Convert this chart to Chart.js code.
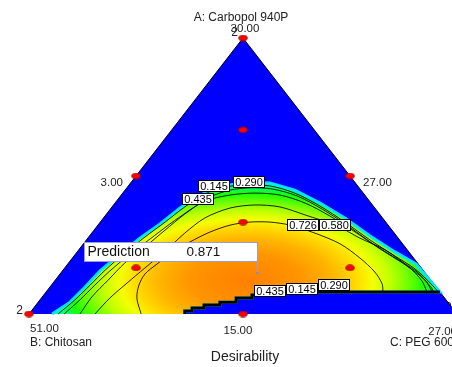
<!DOCTYPE html>
<html>
<head>
<meta charset="utf-8">
<script src="https://cdn.jsdelivr.net/npm/chart.js@4.4.1/dist/chart.umd.min.js"></script>
<style>
  html, body { margin: 0; padding: 0; background: #fff; }
</style>
</head>
<body>
<canvas id="chart" width="452" height="367"></canvas>
<script>
// simplex plotted as x = C + A/2, y = A (component fractions)
const triangle = [[0, 0], [0.5, 1], [1, 0]];

const axisNames = ["A: Carbopol 940P", "B: Chitosan", "C: PEG 600"];
const vertexValues = ["30.00", "51.00", "27.00"];   // A, B, C vertices
const edgeValues = ["3.00", "27.00", "15.00"];       // left, right, bottom midpoints
const replicates = ["2", "2", "2"];
const responseName = "Desirability";

const designPoints = [
  [0, 0], [0.5, 1], [1, 0],
  [0.25, 0.5], [0.75, 0.5], [0.5, 0],
  [0.5, 0.333], [0.5, 0.667], [0.25, 0.167], [0.75, 0.167]
];

// edge of the desirable (non-zero) region
const regionTop = [
  [0.054, 0], [0.096, 0.043], [0.131, 0.098], [0.166, 0.156], [0.213, 0.217],
  [0.259, 0.275], [0.306, 0.326], [0.353, 0.384], [0.400, 0.431], [0.446, 0.460],
  [0.505, 0.478], [0.563, 0.475], [0.621, 0.449], [0.680, 0.402], [0.738, 0.348],
  [0.797, 0.283], [0.855, 0.225], [0.904, 0.181], [0.960, 0.080]
];
const regionBottom = [
  [0.960, 0.080], [0.680, 0.080], [0.633, 0.076], [0.544, 0.069], [0.521, 0.069],
  [0.521, 0.058], [0.484, 0.058], [0.484, 0.043], [0.446, 0.043], [0.446, 0.033],
  [0.409, 0.033], [0.409, 0.022], [0.381, 0.022], [0.381, 0.011], [0.364, 0.011],
  [0.364, 0]
];

const contour145 = [
  [0.068, 0], [0.107, 0.051], [0.143, 0.105], [0.178, 0.159], [0.224, 0.221],
  [0.271, 0.279], [0.318, 0.333], [0.364, 0.388], [0.411, 0.435], [0.458, 0.460],
  [0.505, 0.467], [0.563, 0.464], [0.621, 0.438], [0.680, 0.391], [0.738, 0.333],
  [0.797, 0.268], [0.855, 0.210], [0.902, 0.163], [0.942, 0.105], [0.956, 0.080]
];
const contour290 = [
  [0.082, 0], [0.119, 0.051], [0.154, 0.105], [0.189, 0.156], [0.236, 0.217],
  [0.283, 0.272], [0.329, 0.326], [0.376, 0.377], [0.423, 0.424], [0.470, 0.449],
  [0.516, 0.457], [0.568, 0.453], [0.626, 0.428], [0.685, 0.380], [0.743, 0.322],
  [0.801, 0.257], [0.860, 0.199], [0.907, 0.152], [0.942, 0.091], [0.944, 0.080]
];
const contour435 = [
  [0.119, 0], [0.147, 0.062], [0.185, 0.123], [0.224, 0.185], [0.271, 0.243],
  [0.318, 0.304], [0.364, 0.362], [0.411, 0.409], [0.470, 0.431], [0.528, 0.438],
  [0.586, 0.431], [0.645, 0.402], [0.703, 0.355], [0.762, 0.297], [0.820, 0.236],
  [0.879, 0.178], [0.925, 0.123], [0.942, 0.080]
];
const contour580 = [
  [0.154, 0], [0.189, 0.058], [0.229, 0.112], [0.271, 0.167], [0.318, 0.228],
  [0.364, 0.293], [0.411, 0.348], [0.470, 0.384], [0.528, 0.395], [0.586, 0.388],
  [0.645, 0.359], [0.720, 0.319], [0.773, 0.275], [0.832, 0.232], [0.890, 0.167],
  [0.918, 0.120], [0.930, 0.080]
];
const contour726 = [
  [0.262, 0], [0.252, 0.058], [0.257, 0.105], [0.271, 0.145], [0.299, 0.181],
  [0.334, 0.221], [0.376, 0.261], [0.423, 0.297], [0.470, 0.322], [0.516, 0.333],
  [0.563, 0.333], [0.610, 0.322], [0.668, 0.293], [0.727, 0.254], [0.773, 0.203],
  [0.808, 0.152], [0.825, 0.109], [0.827, 0.080]
];

const contourLabels = ["0.145", "0.290", "0.435", "0.726", "0.580", "0.435", "0.145", "0.290"];
const contourLabelPos = [
  [0.432, 0.462], [0.513, 0.480], [0.394, 0.415], [0.640, 0.322],
  [0.715, 0.322], [0.562, 0.083], [0.639, 0.092], [0.713, 0.105]
];

const predictionPoint = [0.533, 0.149];
const predictionValue = "0.871";

// where the response peaks and how far the colour ramp spreads
const peakCenter = [0.507, 0.120];
const peakSpread = [0.456, 0.344];
const heatStops = [
  [0, "#ff8000"], [0.28, "#ff9400"], [0.44, "#ffb400"], [0.57, "#ffdc00"],
  [0.65, "#f4ff00"], [0.74, "#c0ff00"], [0.83, "#70ff00"], [0.92, "#18ff00"],
  [1, "#00ff90"]
];

const toPts = (arr) => arr.map(([x, y]) => ({ x, y }));

let heatPattern = null;
function heatFill(chart) {
  if (!chart.chartArea || !chart.scales.x) return "#ffe000";
  if (heatPattern) return heatPattern;
  const sx = chart.scales.x, sy = chart.scales.y;
  const cx = sx.getPixelForValue(peakCenter[0]);
  const cy = sy.getPixelForValue(peakCenter[1]);
  const rx = Math.abs(sx.getPixelForValue(peakCenter[0] + peakSpread[0]) - cx);
  const ry = Math.abs(sy.getPixelForValue(peakCenter[1] + peakSpread[1]) - cy);
  const off = document.createElement("canvas");
  off.width = chart.width;
  off.height = chart.height;
  const c = off.getContext("2d");
  c.translate(cx, cy);
  c.scale(1, ry / rx);
  const g = c.createRadialGradient(0, 0, 0, 0, 0, rx);
  heatStops.forEach(([s, col]) => g.addColorStop(s, col));
  c.fillStyle = g;
  c.fillRect(-cx - 10, -off.height * rx / ry, off.width + 20, off.height * 2 * rx / ry);
  heatPattern = chart.ctx.createPattern(off, "no-repeat");
  return heatPattern;
}

function makeDot() {
  const cv = document.createElement("canvas");
  cv.width = 10;
  cv.height = 7;
  const c = cv.getContext("2d");
  c.beginPath();
  c.ellipse(5, 3.5, 4.3, 2.8, 0, 0, Math.PI * 2);
  c.fillStyle = "#ff0000";
  c.fill();
  c.strokeStyle = "#990000";
  c.lineWidth = 0.8;
  c.stroke();
  return cv;
}

const FONT = '"Liberation Sans", Arial, sans-serif';

function contourLine(points, order) {
  return {
    data: toPts(points),
    borderColor: "rgba(0,0,0,0.85)",
    borderWidth: 1,
    pointRadius: 0,
    fill: false,
    tension: 0.3,
    clip: false,
    order
  };
}

const axisTextPlugin = {
  id: "axisText",
  beforeDatasetsDraw(chart) {
    const { ctx, scales: { x, y } } = chart;
    const p = (pt) => ({ x: x.getPixelForValue(pt[0]), y: y.getPixelForValue(pt[1]) });
    const T = p(triangle[1]), L = p(triangle[0]), R = p(triangle[2]);
    const LM = p([0.25, 0.5]), RM = p([0.75, 0.5]), BM = p([0.5, 0]);
    ctx.save();
    ctx.fillStyle = "#222";
    ctx.textBaseline = "middle";
    const text = (s, tx, ty, align, size) => {
      ctx.font = `${size || 11.5}px ${FONT}`;
      ctx.textAlign = align;
      ctx.fillText(s, tx, ty);
    };
    text(axisNames[0], T.x - 2, T.y - 20, "center", 12);
    text(vertexValues[0], T.x + 2, T.y - 9, "center");
    text(replicates[0], T.x - 5, T.y - 5, "right", 12);
    text(replicates[1], L.x - 6, L.y - 3, "right", 12);
    text(vertexValues[1], L.x + 1, L.y + 15, "left");
    text(axisNames[1], L.x + 1, L.y + 29, "left", 12);
    text(replicates[2], R.x - 12, R.y - 6, "left", 12);
    text(vertexValues[2], R.x, R.y + 18, "right");
    text(axisNames[2], R.x - 3, R.y + 29, "right", 12);
    text(edgeValues[0], LM.x - 13, LM.y + 7, "right");
    text(edgeValues[1], RM.x + 13, RM.y + 7, "left");
    text(edgeValues[2], BM.x - 5, BM.y + 17, "center");
    text(responseName, BM.x + 2, BM.y + 43, "center", 14);
    ctx.restore();
  }
};

const labelPlugin = {
  id: "contourLabels",
  afterDatasetsDraw(chart) {
    const { ctx, scales: { x, y } } = chart;
    ctx.save();
    ctx.font = `11px ${FONT}`;
    ctx.textAlign = "center";
    ctx.textBaseline = "middle";
    contourLabels.forEach((t, i) => {
      const px = Math.round(x.getPixelForValue(contourLabelPos[i][0]));
      const py = Math.round(y.getPixelForValue(contourLabelPos[i][1]));
      const w = Math.round(ctx.measureText(t).width) + 4;
      const h = 12;
      ctx.fillStyle = "#fff";
      ctx.fillRect(px - w / 2, py - h / 2, w, h);
      ctx.strokeStyle = "#000";
      ctx.lineWidth = 1;
      ctx.strokeRect(px - w / 2 + 0.5, py - h / 2 + 0.5, w - 1, h - 1);
      ctx.fillStyle = "#000";
      ctx.fillText(t, px, py + 0.5);
    });

    // prediction flag
    const fx = Math.round(x.getPixelForValue(predictionPoint[0])) + 0.5;
    const fy = Math.round(y.getPixelForValue(predictionPoint[1]));
    const bw = 173, bh = 19;
    const bx = fx - bw, by = fy - 12 - bh;
    ctx.fillStyle = "#fff";
    ctx.fillRect(bx, by, bw, bh);
    ctx.strokeStyle = "#9c9cd4";
    ctx.strokeRect(bx, by + 0.5, bw, bh);
    ctx.beginPath();
    ctx.moveTo(fx, by + bh);
    ctx.lineTo(fx, fy);
    ctx.stroke();
    ctx.fillStyle = "#8888c8";
    ctx.fillRect(fx - 1.5, fy - 1, 3, 2);
    ctx.fillStyle = "#111";
    ctx.textAlign = "left";
    ctx.font = `14px ${FONT}`;
    ctx.fillText("Prediction", bx + 3, by + bh / 2 + 1);
    ctx.font = `13.5px ${FONT}`;
    ctx.fillText(predictionValue, bx + 102, by + bh / 2 + 1);
    ctx.restore();
  }
};

new Chart(document.getElementById("chart"), {
  type: "line",
  data: {
    datasets: [
      {
        data: toPts(triangle),
        fill: "shape",
        backgroundColor: "#0000ff",
        borderColor: "#000",
        borderWidth: 1,
        pointRadius: 0,
        tension: 0,
        clip: false,
        order: 10
      },
      {
        data: toPts(regionTop.concat(regionBottom)),
        fill: "shape",
        backgroundColor: (ctx) => heatFill(ctx.chart),
        borderColor: "rgba(0,235,255,0.95)",
        borderWidth: 3,
        pointRadius: 0,
        tension: 0,
        clip: false,
        order: 9
      },
      contourLine(contour145, 8),
      contourLine(contour290, 7),
      contourLine(contour435, 6),
      contourLine(contour580, 5),
      contourLine(contour726, 4),
      {
        data: toPts(regionBottom),
        borderColor: "#000",
        borderWidth: 3,
        pointRadius: 0,
        fill: false,
        tension: 0,
        clip: false,
        order: 3
      },
      {
        data: toPts(designPoints),
        showLine: false,
        pointStyle: makeDot(),
        pointRadius: 5,
        clip: false,
        order: 1
      }
    ]
  },
  options: {
    responsive: false,
    animation: false,
    events: [],
    layout: { autoPadding: false, padding: { left: 29, top: 38, right: 0, bottom: 53 } },
    plugins: { legend: { display: false }, tooltip: { enabled: false } },
    scales: {
      x: { type: "linear", display: false, min: 0, max: 0.9883, bounds: "data" },
      y: { type: "linear", display: false, min: 0, max: 1, bounds: "data" }
    }
  },
  plugins: [axisTextPlugin, labelPlugin]
});
</script>
</body>
</html>
